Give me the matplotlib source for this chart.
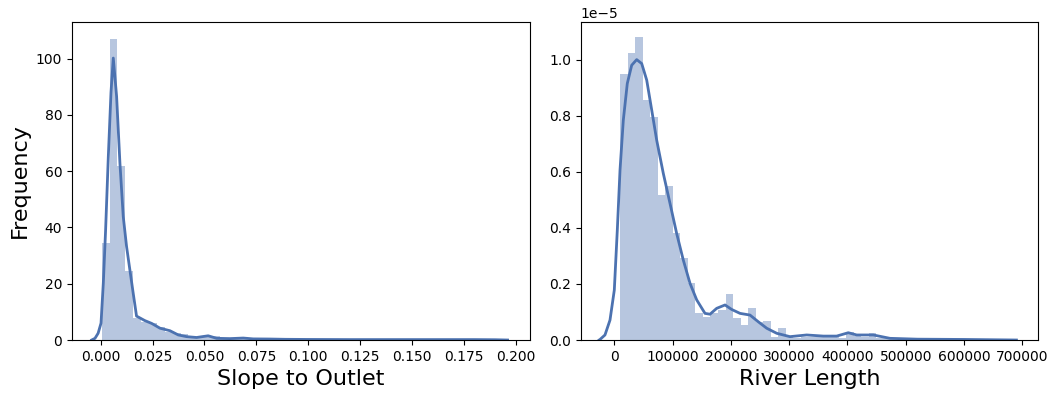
import numpy as np
import matplotlib
matplotlib.use("Agg")
import matplotlib.pyplot as plt

color = '#4C72B0'

# slope to outlet: 50 equal bins between the data min and max (density)
slope_min, slope_max = 0.0005, 0.1905
slope_hist = [34.5, 107, 62, 24.5, 7.7, 6.5, 6.0, 4.5, 3.0, 2.5,
              2.0, 1.5, 1.2, 1.0, 1.3, 0.8, 0.5, 0.5, 0.4, 0.5,
              0.3, 0.4, 0.3, 0.3, 0.2, 0.3, 0.2, 0.1, 0.2, 0.1,
              0.1, 0.1, 0.1, 0.1, 0.0, 0.1, 0.1, 0.0, 0.1, 0.0,
              0.1, 0.1, 0.0, 0.0, 0.1, 0.0, 0.0, 0.0, 0.1, 0.1]
slope_kde_x = [-0.0043, -0.0027, -0.0012, 0.0002, 0.0013, 0.0024, 0.0037, 0.0050,
               0.0061, 0.0077, 0.0093, 0.0109, 0.0125, 0.0141, 0.0157, 0.0173,
               0.0213, 0.0246, 0.0286, 0.0334, 0.0374, 0.0414, 0.0462, 0.0518,
               0.0559, 0.0623, 0.0687, 0.0735, 0.0815, 0.0890, 0.1000, 0.1200,
               0.1400, 0.1600, 0.1800, 0.1900, 0.1960]
slope_kde_y = [0.0, 0.6, 2.4, 6.0, 20.2, 39.0, 65.0, 88.0,
               100.2, 86.6, 62.9, 43.9, 33.2, 24.9, 16.6, 8.5,
               6.9, 5.9, 4.2, 3.3, 1.8, 1.2, 0.9, 1.5,
               0.6, 0.5, 0.7, 0.4, 0.35, 0.25, 0.2, 0.15,
               0.15, 0.15, 0.15, 0.1, 0.0]

# river length: 50 equal bins, density in units of 1e-5
length_min, length_max = 9800, 656300
length_hist = [0.948, 1.022, 1.079, 0.856, 0.796, 0.517, 0.550, 0.381, 0.291, 0.202,
               0.095, 0.081, 0.095, 0.107, 0.163, 0.077, 0.053, 0.115, 0.065, 0.067,
               0.012, 0.042, 0.012, 0.008, 0.012, 0.012, 0.016, 0.012, 0.012, 0.008,
               0.030, 0.016, 0.012, 0.026, 0.008, 0.008, 0.008, 0.004, 0.004, 0.004,
               0.004, 0.0, 0.004, 0.0, 0.0, 0.004, 0.0, 0.0, 0.0, 0.004]
length_kde_x = [-26000, -24500, -16000, -7400, 0, 5150, 9800, 15450, 22300, 29850,
                38400, 47000, 55600, 64200, 72700, 84100, 95600, 107000, 118400,
                129900, 141400, 155600, 164200, 175700, 190000, 201400, 215700,
                232800, 247100, 261500, 278600, 301400, 330100, 358600, 381500,
                401500, 415900, 444400, 473000, 520000, 600000, 690000]
length_kde_y = [0.0, 0.002, 0.018, 0.071, 0.178, 0.392, 0.606, 0.784, 0.915, 0.980,
                1.0, 0.986, 0.927, 0.820, 0.713, 0.594, 0.487, 0.380, 0.285,
                0.202, 0.143, 0.095, 0.092, 0.113, 0.125, 0.109, 0.095,
                0.089, 0.065, 0.042, 0.024, 0.012, 0.018, 0.014, 0.014,
                0.026, 0.018, 0.018, 0.006, 0.003, 0.002, 0.0]

fig = plt.figure(figsize=(10.52, 3.95), dpi=100)
ax1 = fig.add_axes([0.0684, 0.1392, 0.4354, 0.805])
ax2 = fig.add_axes([0.552, 0.1392, 0.4347, 0.805])

edges = np.linspace(slope_min, slope_max, len(slope_hist) + 1)
ax1.bar(edges[:-1], slope_hist, width=np.diff(edges), align='edge',
        color=color, alpha=0.4, linewidth=0)
ax1.plot(slope_kde_x, slope_kde_y, color=color, lw=2)
ax1.set_xlim(-0.0138, 0.2068)
ax1.set_ylim(0, 113)
ax1.set_xticks(np.arange(0, 0.201, 0.025))
ax1.set_xlabel('Slope to Outlet', fontsize=16)
ax1.set_ylabel('Frequency', fontsize=16)

edges = np.linspace(length_min, length_max, len(length_hist) + 1)
ax2.bar(edges[:-1], np.array(length_hist) * 1e-5, width=np.diff(edges), align='edge',
        color=color, alpha=0.4, linewidth=0)
ax2.plot(length_kde_x, np.array(length_kde_y) * 1e-5, color=color, lw=2)
ax2.set_xlim(-57650, 727000)
ax2.set_ylim(0, 1.134e-5)
ax2.set_xlabel('River Length', fontsize=16)

fig.savefig('out.png', dpi=100)
